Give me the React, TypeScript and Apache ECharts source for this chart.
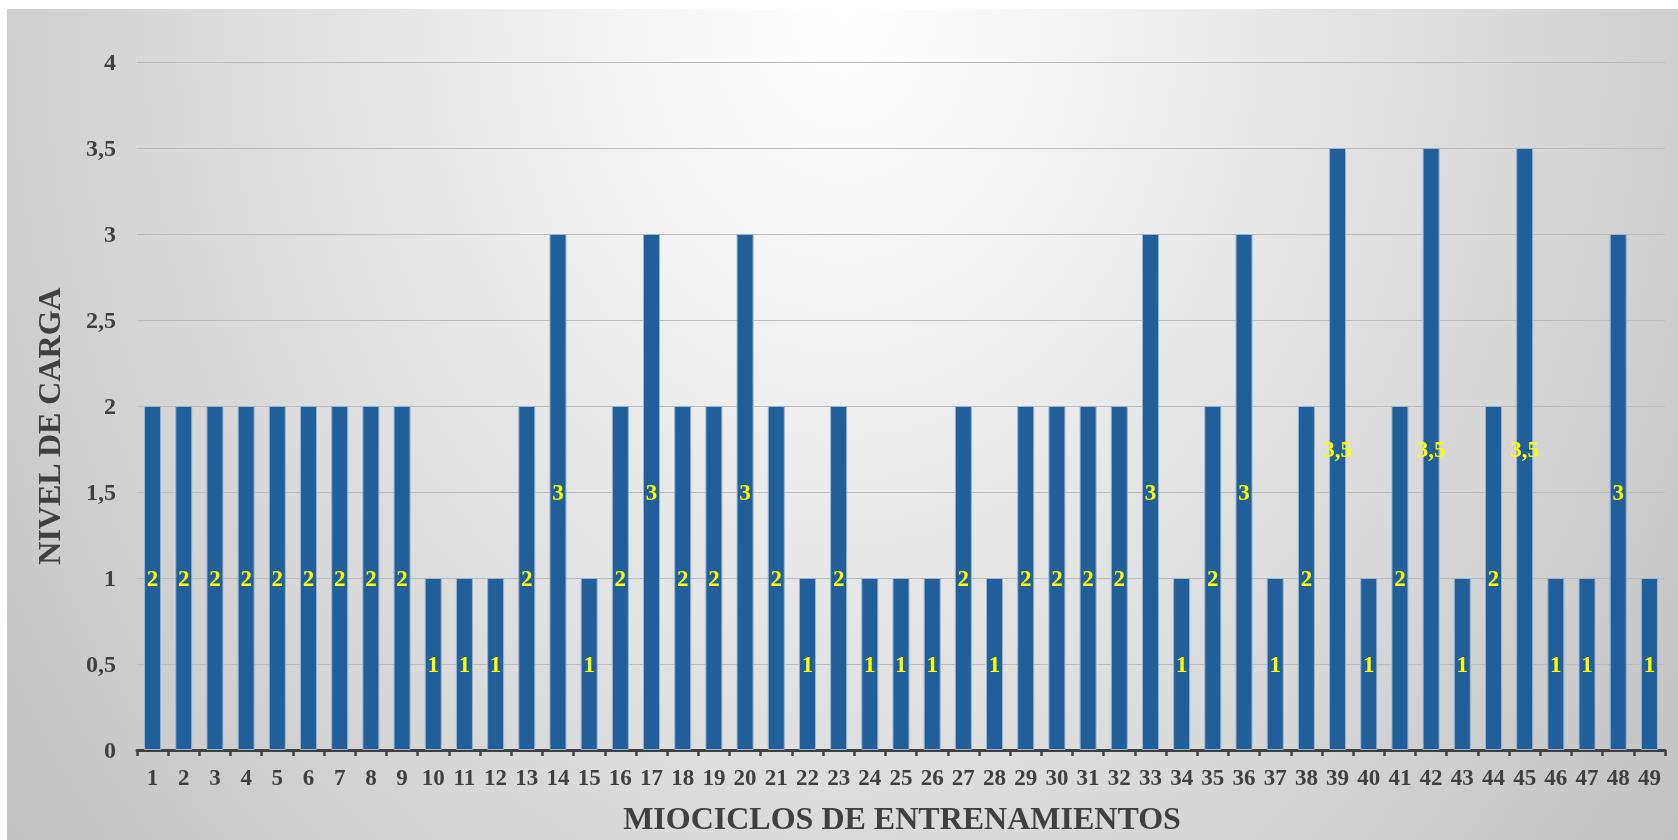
import React, { useEffect, useRef } from "react";
import * as echarts from "echarts";

// Microcycle numbers along the x axis
const microcycles: string[] = Array.from({ length: 49 }, (_, i) => String(i + 1));

// Load level for each microcycle
const loadLevels: number[] = [
  2, 2, 2, 2, 2, 2, 2, 2, 2, 1,
  1, 1, 2, 3, 1, 2, 3, 2, 2, 3,
  2, 1, 2, 1, 1, 1, 2, 1, 2, 2,
  2, 2, 3, 1, 2, 3, 1, 2, 3.5, 1,
  2, 3.5, 1, 2, 3.5, 1, 1, 3, 1,
];

// Y-axis tick range
const yTicks = { min: 0, max: 4, step: 0.5 };

const xTitle = "MIOCICLOS DE ENTRENAMIENTOS";
const yTitle = "NIVEL DE CARGA";

const FONT = "'Liberation Serif', 'Times New Roman', serif";
const TEXT = "#404040";

const fmt = (v: number) => String(v).replace(".", ",");

export default function App() {
  const ref = useRef<HTMLDivElement>(null);

  useEffect(() => {
    if (!ref.current) return;
    const chart = echarts.init(ref.current, undefined, { renderer: "svg" });

    chart.setOption({
      animation: false,
      backgroundColor: "transparent",
      textStyle: { fontFamily: FONT },
      grid: { left: 130, right: 13, top: 53, bottom: 90, containLabel: false },
      xAxis: {
        type: "category",
        data: microcycles,
        boundaryGap: true,
        axisLine: { show: true, lineStyle: { color: TEXT, width: 3 } },
        axisTick: { show: true, length: 6, lineStyle: { color: TEXT, width: 2.5 } },
        axisLabel: {
          interval: 0,
          margin: 16,
          color: TEXT,
          fontFamily: FONT,
          fontWeight: "bold",
          fontSize: 23,
        },
      },
      yAxis: {
        type: "value",
        min: yTicks.min,
        max: yTicks.max,
        interval: yTicks.step,
        axisLine: { show: false },
        axisTick: { show: false },
        splitLine: { lineStyle: { color: "#bcbcbc", width: 1 } },
        axisLabel: {
          margin: 21,
          color: TEXT,
          fontFamily: FONT,
          fontWeight: "bold",
          fontSize: 24,
          formatter: (v: number) => fmt(v),
        },
      },
      series: [
        {
          type: "bar",
          data: loadLevels,
          barWidth: 17,
          itemStyle: {
            color: "#215f9a",
            borderColor: "#9db4d0",
            borderWidth: 1,
          },
          label: {
            show: true,
            position: "inside",
            color: "#ffff00",
            fontFamily: FONT,
            fontWeight: "bold",
            fontSize: 23,
            formatter: (p: any) => fmt(p.value),
          },
        },
      ],
      graphic: [
        {
          type: "text",
          x: 895,
          y: 809,
          style: {
            text: xTitle,
            fill: TEXT,
            font: `bold 32px ${FONT}`,
            align: "center",
            verticalAlign: "middle",
          },
        },
        {
          type: "text",
          x: 42,
          y: 417,
          rotation: Math.PI / 2,
          style: {
            text: yTitle,
            fill: TEXT,
            font: `bold 32px ${FONT}`,
            align: "center",
            verticalAlign: "middle",
          },
        },
      ],
    });

    return () => chart.dispose();
  }, []);

  return (
    <div
      ref={ref}
      style={{
        position: "fixed",
        left: 7,
        top: 9,
        width: 1671,
        height: 831,
        background:
          "radial-gradient(ellipse 68% 175% at 50% 0%, #ffffff 0%, #f4f4f4 20%, #bdbdbd 100%)",
      }}
    />
  );
}
